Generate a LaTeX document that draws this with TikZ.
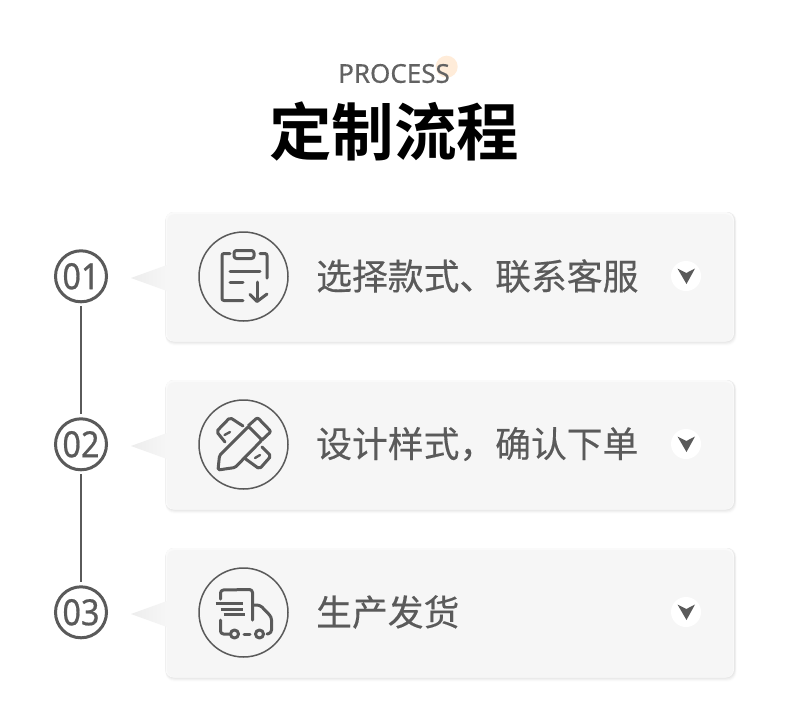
\documentclass[tikz,border=0pt]{standalone}
\usepackage{fontspec}
\setmainfont{Noto Sans}
\newfontfamily\cjk[FakeBold=0.35]{Noto Sans CJK SC}
\newfontfamily\cjkbold{Noto Sans CJK SC Bold}
\newfontfamily\numfont[FakeStretch=0.9,FakeBold=0.6]{Noto Sans}
\newfontfamily\procfont[FakeBold=0.3]{Noto Sans}
\definecolor{ink}{HTML}{5A5A5A}
\definecolor{cardf}{HTML}{F6F6F6}
\definecolor{tipc}{HTML}{EDEDED}
\tikzset{
  x=1pt,y=-1pt,
  numring/.style={circle,draw=ink,line width=3pt,minimum size=51pt,inner sep=0pt,text=ink,font=\numfont\fontsize{36}{36}\selectfont},
  iconring/.style={circle,draw=ink,line width=1.5pt,minimum size=89pt,inner sep=0pt},
  iconline/.style={draw=ink,line width=3pt,line cap=round,line join=round},
  iconthin/.style={draw=ink,line width=2.4pt,line cap=round,line join=round},
  steplabel/.style={anchor=west,text=ink,inner sep=0pt,font=\cjk\fontsize{35.8}{36}\selectfont},
  linker/.style={draw=ink,line width=1.3pt},
  badge/.style={circle,fill=white,minimum size=30pt,inner sep=0pt},
  chev/.style={fill=ink,draw=none},
}
\newcommand{\cardbox}[2]{% top y, name
  \foreach \o/\c in {5/FCFCFC,4/F6F6F6,3/EFEFEF,2/E8E8E8,1/E4E4E4}{
    \definecolor{tmpc}{HTML}{\c}
    \fill[tmpc,rounded corners=9pt] (165.5,#1-1) rectangle (734+\o*0.5,#1+127.5+\o);
  }
  \fill[cardf!60!white,rounded corners=8pt] (165.5,#1-1) rectangle (734,#1+128.5);
  \fill[cardf,rounded corners=8pt] (167,#1+1) rectangle (733,#1+128.5);
  \shade[left color=tipc,right color=cardf,draw=none] (131,#1+65) -- (167,#1+52) -- (167,#1+78) -- cycle;
}
\begin{document}
\begin{tikzpicture}
\useasboundingbox (0,0) rectangle (790,707);
\fill[white] (0,0) rectangle (790,707);

\fill[orange!15!white] (446.7,66.7) circle (11);
\node[text=ink!95!white,inner sep=0pt,font=\procfont\fontsize{26}{26}\selectfont] (proc) at (394,73.5) {PROCESS};
\node[text=black,inner sep=0pt,font=\cjkbold\fontsize{62.5}{63}\selectfont] (title) at (394,131) {定制流程};

\cardbox{213}{c1}
\cardbox{381}{c2}
\cardbox{549}{c3}

\node[numring] (n1) at (81,276.3) {01};
\node[numring] (n2) at (81,444.3) {02};
\node[numring] (n3) at (81,612.3) {03};
\draw[linker,shorten <=3pt,shorten >=3pt] (n1) -- (n2);
\draw[linker,shorten <=3pt,shorten >=3pt] (n2) -- (n3);

\node[iconring] (r1) at (243.5,276.5) {};
\node[iconring] (r2) at (243.5,444.5) {};
\node[iconring] (r3) at (243.5,612.5) {};

\node[steplabel] (t1) at (316,276) {选择款式、联系客服};
\node[steplabel] (t2) at (316,444) {设计样式，确认下单};
\node[steplabel] (t3) at (316,612) {生产发货};

\foreach \y/\nm in {276/b1,444/b2,612/b3}{
  \node[badge] (\nm) at (686,\y) {};
  \fill[chev] (677.5,\y-7.5) -- (686.3,\y-3) -- (695,\y-7.5) -- (686.5,\y+8) -- cycle;
}

% clipboard icon
\draw[iconline,rounded corners=2pt] (230,253.5) -- (222,253.5) -- (222,300.5) -- (243,300.5);
\draw[iconline,rounded corners=2pt] (260,253.5) -- (267,253.5) -- (267,278);
\draw[iconline,rounded corners=2.5pt] (234,250.5) rectangle (254,258.5);
\draw[iconline] (230,271) -- (260,271);
\draw[iconline] (230,282) -- (243,282);
\draw[iconline] (257,282) -- (257,301);
\draw[iconline] (250,294.5) -- (257,301.5) -- (267,294);

% pencil and ruler icon
\draw[iconline,rounded corners=1.5pt] (219.5,455.5) -- (248.5,426.5) -- (262,440) -- (235,467.5) -- (218,470) -- cycle;
\draw[iconline,rounded corners=2pt] (243,426) -- (230,417.5) -- (216.5,431.5) -- (225,442);
\draw[iconthin] (224.5,435) -- (230,432);
\draw[iconline,rounded corners=2pt] (248.5,425.5) -- (257.5,417.5) -- (271,431.5) -- (262,440);
\draw[iconline,rounded corners=2pt] (262,447) -- (271,456) -- (259.5,469) -- (245,458.5);
\draw[iconthin] (255,458) -- (260,455);

% truck icon
\draw[iconline,rounded corners=3pt] (220.5,599) -- (220.5,590) -- (252.5,589.5) -- (252.5,620);
\draw[iconline,rounded corners=3pt] (252.5,605) -- (260,605) -- (271.5,617) -- (271.5,633) -- (267,634);
\draw[iconline,rounded corners=3pt] (220.5,620) -- (220.5,634) -- (230,634);
\draw[iconline] (234.5,634) circle (4);
\draw[iconline] (259.5,634) circle (4);
\draw[iconline] (244,634) -- (250,634);
\draw[iconthin,line cap=butt] (215.5,603.5) -- (243,603.5);
\draw[iconthin,line cap=butt] (220.5,609.5) -- (243,609.5);
\draw[iconthin,line cap=butt] (223.5,614.5) -- (245,614.5);
\end{tikzpicture}
\end{document}
